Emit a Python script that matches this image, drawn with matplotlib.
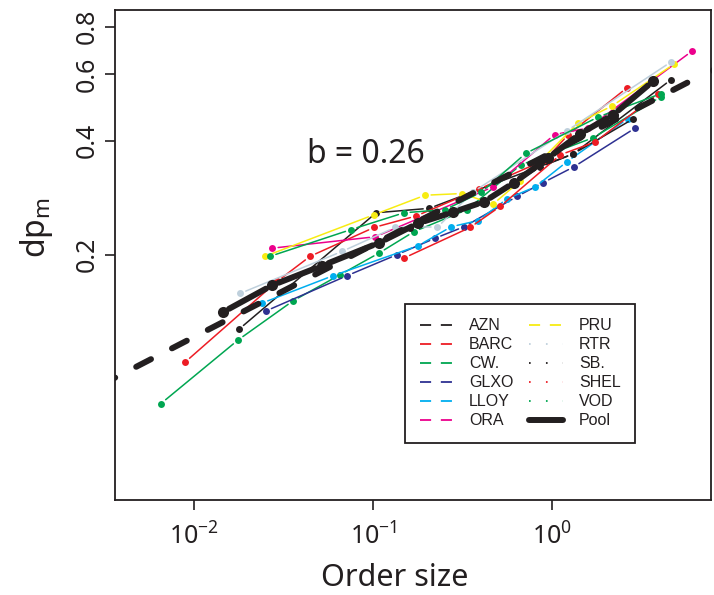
import numpy as np
import matplotlib
matplotlib.use("Agg")
import matplotlib.pyplot as plt
from matplotlib.lines import Line2D

plt.rcParams["font.family"] = ["Noto Sans", "DejaVu Sans"]
plt.rcParams["mathtext.default"] = "regular"
plt.rcParams["lines.scale_dashes"] = False

# order size (x) and dp_m (y) for each stock
azn_x = [0.0178, 0.104, 0.2055, 1.31, 4.62]
azn_y = [0.127, 0.258, 0.265, 0.369, 0.580]
barc_x = [0.00891, 0.0291, 0.0445, 0.1013, 0.174, 0.391, 0.914, 1.23, 2.62]
barc_y = [0.104, 0.170, 0.198, 0.236, 0.253, 0.298, 0.356, 0.415, 0.552]
cw_x = [0.00654, 0.0176, 0.0357, 0.0654, 0.108, 0.169, 0.335, 0.667, 1.69, 4.04]
cw_y = [0.0809, 0.119, 0.151, 0.177, 0.202, 0.230, 0.263, 0.345, 0.407, 0.522]
glxo_x = [0.0252, 0.0716, 0.136, 0.222, 0.322, 0.637, 0.891, 1.32, 2.91]
glxo_y = [0.142, 0.176, 0.200, 0.221, 0.237, 0.285, 0.310, 0.341, 0.432]
lloy_x = [0.0240, 0.0598, 0.178, 0.273, 0.386, 0.561, 0.804, 1.21, 2.64]
lloy_y = [0.149, 0.176, 0.211, 0.237, 0.246, 0.281, 0.302, 0.352, 0.457]
ora_x = [0.0273, 0.103, 0.468, 1.03, 1.59, 6.05]
ora_y = [0.208, 0.223, 0.302, 0.415, 0.432, 0.690]
pru_x = [0.0249, 0.1013, 0.195, 0.314, 0.468, 0.663, 1.40, 2.16, 4.81]
pru_y = [0.198, 0.255, 0.287, 0.290, 0.272, 0.313, 0.446, 0.494, 0.638]
rtr_x = [0.0181, 0.0671, 0.1327, 0.228, 0.362, 1.21, 4.62]
rtr_y = [0.158, 0.204, 0.236, 0.236, 0.293, 0.425, 0.646]
sb_x = [0.0512, 0.16, 0.417, 0.86, 1.31, 2.84]
sb_y = [0.187, 0.235, 0.276, 0.341, 0.369, 0.457]
shel_x = [0.149, 0.348, 0.512, 1.11, 1.74, 3.91]
shel_y = [0.196, 0.236, 0.268, 0.367, 0.397, 0.532]
vod_x = [0.0266, 0.0754, 0.149, 0.252, 0.401, 0.71, 1.81, 4.04]
vod_y = [0.198, 0.233, 0.258, 0.263, 0.292, 0.37, 0.462, 0.532]

pool_x = [0.0145, 0.0273, 0.0519, 0.108, 0.178, 0.280, 0.417, 0.613, 0.950, 1.43, 2.19, 3.67]
pool_y = [0.141, 0.166, 0.187, 0.215, 0.242, 0.259, 0.276, 0.310, 0.360, 0.417, 0.468, 0.575]
pool_extra_x = [8.04]
pool_extra_y = [0.615]

# pooled power-law fit, b = 0.26 (end points)
fit_x = [0.003, 5.68]
fit_y = [0.0904, 0.569]

names = ["AZN", "BARC", "CW.", "GLXO", "LLOY", "ORA", "PRU", "RTR", "SB.", "SHEL", "VOD"]
colors = ["#231F20", "#ED1C24", "#00A651", "#2E3192", "#00AEEF", "#EC008C",
          "#F7EC13", "#BFD0DC", "#231F20", "#ED1C24", "#00A651"]
legend_styles = ["dash"] * 7 + ["dot"] * 4
series = [(azn_x, azn_y), (barc_x, barc_y), (cw_x, cw_y), (glxo_x, glxo_y),
          (lloy_x, lloy_y), (ora_x, ora_y), (pru_x, pru_y), (rtr_x, rtr_y),
          (sb_x, sb_y), (shel_x, shel_y), (vod_x, vod_y)]


def draw_type_b(ax, xs, ys, color, lw, ms, gap):
    """Points joined by lines that stop short of each point (like R's type='b')."""
    pts = ax.transData.transform(np.column_stack([xs, ys]))
    inv = ax.transData.inverted()
    for p0, p1 in zip(pts[:-1], pts[1:]):
        d = p1 - p0
        L = np.hypot(*d)
        if L <= 2 * gap:
            continue
        u = d / L
        seg = inv.transform(np.array([p0 + u * gap, p1 - u * gap]))
        ax.plot(seg[:, 0], seg[:, 1], color=color, lw=lw, solid_capstyle="round")
    ax.plot(xs, ys, "o", color=color, ms=ms, mec="none")


fig = plt.figure(figsize=(7.14, 5.95), dpi=100)
ax = fig.add_axes([115 / 714, 95 / 595, 596 / 714, 490 / 595])
ax.set_xscale("log")
ax.set_yscale("log")
ax.set_xlim(0.00362, 7.7)
ax.set_ylim(0.045, 0.885)

for (xs, ys), c in zip(series, colors):
    draw_type_b(ax, xs, ys, c, 1.1, 5, 6)

ax.plot(fit_x, fit_y, color="#231F20", lw=4.3, linestyle=(0, (12, 17)),
        dash_capstyle="round")
draw_type_b(ax, pool_x, pool_y, "#231F20", 4.3, 8, 7)
ax.plot(pool_extra_x, pool_extra_y, "o", color="#231F20", ms=6, mec="none")

ax.text(0.322, 0.688, "b = 0.26", transform=ax.transAxes, fontsize=23,
        color="#231F20", va="baseline", ha="left")

# axes styling
for s in ax.spines.values():
    s.set_linewidth(1.3)
    s.set_color("#231F20")
ax.set_xticks([1e-2, 1e-1, 1e0])
ax.xaxis.set_minor_locator(matplotlib.ticker.NullLocator())
ax.set_yticks([0.2, 0.4, 0.6, 0.8])
ax.set_yticklabels(["0.2", "0.4", "0.6", "0.8"])
ax.yaxis.set_minor_locator(matplotlib.ticker.NullLocator())
ax.tick_params(axis="both", length=7, width=1.2, color="#231F20",
               labelsize=18, labelcolor="#231F20")
ax.tick_params(axis="y", labelrotation=90, pad=4)
ax.tick_params(axis="x", pad=10)
for lab in ax.get_yticklabels():
    lab.set_va("center")

ax.set_xlabel("Order size", fontsize=22, color="#231F20")
ax.xaxis.set_label_coords(0.47, -0.128)
ax.xaxis.label.set_va("top")
ax.set_ylabel("dp$_{m}$", fontsize=23, color="#231F20")
ax.yaxis.set_label_coords(-0.10, 0.555)

# legend
handles = []
for name, c, st in zip(names, colors, legend_styles):
    ls = (0, (8, 7)) if st == "dash" else (0, (1.2, 11))
    handles.append(Line2D([], [], color=c, lw=1.3, linestyle=ls))
handles.append(Line2D([], [], color="#231F20", lw=4.3, solid_capstyle="round"))
labels = names + ["Pool"]
leg = ax.legend(handles, labels, ncol=2, loc="upper left",
                bbox_to_anchor=(0.487, 0.400), borderaxespad=0,
                prop={"family": "Liberation Sans", "size": 11.5},
                frameon=True, fancybox=False, framealpha=1, edgecolor="#231F20",
                handlelength=2.1, handletextpad=1.0, columnspacing=1.0,
                labelspacing=0.25, borderpad=0.9)
leg.get_frame().set_linewidth(1.3)
for t in leg.get_texts():
    t.set_color("#231F20")

fig.savefig("out.png", dpi=100)
